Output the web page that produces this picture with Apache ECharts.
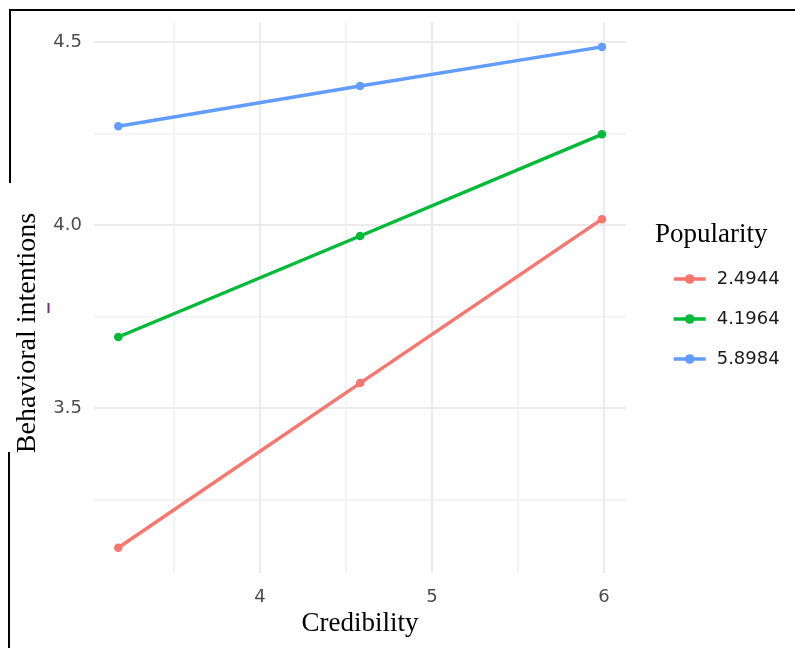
<!DOCTYPE html>
<html>
<head>
<meta charset="utf-8">
<script src="https://cdn.jsdelivr.net/npm/echarts@6/dist/echarts.min.js"></script>
<style>html,body{margin:0;padding:0;background:#fff;}#chart{width:795px;height:648px;}</style>
</head>
<body>
<div id="chart"></div>
<script>
// Credibility values (x) at -1SD, mean, +1SD
const credibility = [3.176, 4.582, 5.988];
// Popularity levels (legend)
const popularityLevels = ['2.4944', '4.1964', '5.8984'];
// Behavioral intentions for each popularity level
const bi_low = [3.118, 3.568, 4.016];
const bi_mid = [3.694, 3.970, 4.248];
const bi_high = [4.270, 4.380, 4.487];
// tick labels
const xMajorTicks = [4, 5, 6];
const xMinorTicks = [3.5, 4.5, 5.5];
const yMajorTicks = [3.5, 4.0, 4.5];
const yMinorTicks = [3.25, 3.75, 4.25];

const colors = ['#F8766D', '#00BA38', '#619CFF'];
const seriesValues = [bi_low, bi_mid, bi_high];

const chart = echarts.init(document.getElementById('chart'), null, {renderer: 'canvas'});

const xMin = 3.035, xMax = 6.128, yMin = 3.049, yMax = 4.555;
const sans = 'DejaVu Sans';
const serif = 'Liberation Serif';

function makeSeries(i) {
  return {
    name: popularityLevels[i],
    type: 'line',
    xAxisIndex: 0,
    yAxisIndex: 0,
    data: credibility.map((x, j) => [x, seriesValues[i][j]]),
    symbol: 'circle',
    symbolSize: 8.5,
    lineStyle: {width: 3.4, color: colors[i]},
    itemStyle: {color: colors[i]},
    emphasis: {disabled: true},
    animation: false
  };
}

const option = {
  backgroundColor: '#fff',
  animation: false,
  grid: {left: 94, right: 169, top: 22, bottom: 75, containLabel: false, outerBoundsMode: 'none'},
  xAxis: [
    {
      type: 'value', min: xMin, max: xMax, position: 'bottom',
      name: 'Credibility', nameLocation: 'middle', nameGap: 32,
      nameTextStyle: {fontFamily: serif, fontSize: 27, color: '#000'},
      axisLine: {show: false},
      axisTick: {show: false, customValues: xMajorTicks},
      axisLabel: {customValues: xMajorTicks, fontFamily: sans, fontSize: 18, color: '#4d4d4d', margin: 15},
      splitLine: {show: true, lineStyle: {color: '#ebebeb', width: 2}}
    },
    {
      type: 'value', min: xMin, max: xMax, position: 'bottom',
      axisLine: {show: false},
      axisTick: {show: false, customValues: xMinorTicks},
      axisLabel: {show: false, customValues: xMinorTicks},
      splitLine: {show: true, lineStyle: {color: '#f1f1f1', width: 1.5}}
    }
  ],
  yAxis: [
    {
      type: 'value', min: yMin, max: yMax, position: 'left',
      axisLine: {show: false},
      axisTick: {show: false, customValues: yMajorTicks},
      axisLabel: {customValues: yMajorTicks, fontFamily: sans, fontSize: 18, color: '#4d4d4d', margin: 12,
        formatter: v => v.toFixed(1)},
      splitLine: {show: true, lineStyle: {color: '#ebebeb', width: 2}}
    },
    {
      type: 'value', min: yMin, max: yMax, position: 'left',
      axisLine: {show: false},
      axisTick: {show: false, customValues: yMinorTicks},
      axisLabel: {show: false, customValues: yMinorTicks},
      splitLine: {show: true, lineStyle: {color: '#f1f1f1', width: 1.5}}
    }
  ],
  legend: {
    orient: 'vertical', left: 667, top: 265,
    itemWidth: 32, itemHeight: 12, itemGap: 22,
    data: popularityLevels,
    lineStyle: {width: 3.4},
    textStyle: {fontFamily: sans, fontSize: 18, color: '#1a1a1a', padding: [0, 0, 0, 6]},
    selectedMode: false
  },
  series: [makeSeries(0), makeSeries(1), makeSeries(2)],
  graphic: [
    {type: 'line', shape: {x1: 9, y1: 10, x2: 795, y2: 10}, style: {stroke: '#000', lineWidth: 2}, silent: true},
    {type: 'line', shape: {x1: 10, y1: 10, x2: 10, y2: 183}, style: {stroke: '#000', lineWidth: 2}, silent: true},
    {type: 'line', shape: {x1: 9, y1: 452, x2: 9, y2: 648}, style: {stroke: '#000', lineWidth: 2}, silent: true},
    {type: 'rect', shape: {x: 47.5, y: 303, width: 2, height: 10}, style: {fill: '#7b2d7b'}, silent: true},
    {type: 'text', x: 28, y: 333, rotation: Math.PI / 2,
      style: {text: 'Behavioral intentions', fontFamily: serif, fontSize: 28, fill: '#000', align: 'center', verticalAlign: 'middle'}, silent: true},
    {type: 'text', left: 655, top: 221, style: {text: 'Popularity', fontFamily: serif, fontSize: 27, fill: '#000'}, silent: true}
  ]
};

chart.setOption(option);
</script>
</body>
</html>
